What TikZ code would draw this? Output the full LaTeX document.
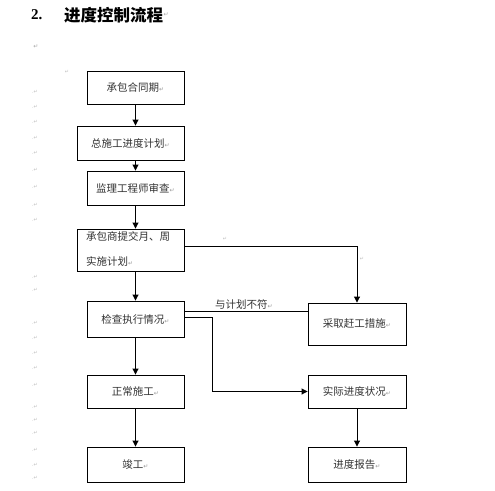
\documentclass[tikz,border=0pt]{standalone}
\usepackage{fontspec}
\setmainfont{Liberation Serif}
\newfontfamily\cjk{Noto Sans CJK SC}
\newfontfamily\sym{DejaVu Sans}
\usetikzlibrary{arrows.meta}
\tikzset{
  box/.style={draw=black, line width=0.9pt, rectangle, inner sep=0pt, minimum width=97pt,
    font=\cjk\fontsize{10.5}{12}\selectfont, text=black!80},
  wide/.style={minimum width=107pt},
  arr/.style={line width=0.9pt, -{Triangle[width=6pt,length=6pt]}},
  ln/.style={line width=0.9pt},
  mk/.style={font=\sym\fontsize{6}{6}\selectfont, text=black!35, inner sep=0pt},
}
\newcommand{\parmk}{{\sym\fontsize{6}{6}\selectfont\textcolor{black!40}{↵}}}
\begin{document}
\begin{tikzpicture}[x=1pt,y=-1pt]
\useasboundingbox (0,0) rectangle (495,490);
\fill[white] (0,0) rectangle (495,490);
% title
\node[anchor=west, inner sep=0pt] (t1) at (31,15) {\fontsize{15}{15}\selectfont\bfseries 2.};
\node[anchor=west, inner sep=0pt] (t2) at (64,15) {\cjk\bfseries\fontsize{16.5}{17}\selectfont 进度控制流程};
\node[mk, anchor=west] (t3) at (t2.east) {↵};
\node[mk] (t4) at (36,47) {↵};
% margin marks
\foreach \yy [count=\i] in {92,107,122,138,153,170,187,205,220,277,290,323,338,353,368,385,407,420,433,450,465,478}
  \node[mk, font=\sym\fontsize{5}{5}\selectfont, text=black!25] (m\i) at (35,\yy) {.↵};
\node[mk, font=\sym\fontsize{5}{5}\selectfont, text=black!25] (m0) at (67,72) {↵};
% boxes
\node[box, minimum height=33pt] (b1) at (135.5,87.5) {承包合同期\parmk};
\node[box, wide, minimum height=34pt] (b2) at (130.5,143) {总施工进度计划\parmk};
\node[box, minimum height=34pt] (b3) at (135.5,188) {监理工程师审查\parmk};
\node[box, wide, minimum height=42pt] (b4) at (130.5,250) {};
\node[anchor=north west, inner sep=0pt, font=\cjk\fontsize{10.5}{12}\selectfont, text=black!80, align=left] (b4t) at (86,228) {\rule{0pt}{12pt}承包商提交月、周\\[13pt]实施计划\parmk};
\node[box, minimum height=36pt] (b5) at (135.5,319) {检查执行情况\parmk};
\node[box, minimum width=98pt, minimum height=42pt] (b6) at (357,324) {采取赶工措施\parmk};
\node[box, minimum height=33pt] (b7) at (135.5,391.5) {正常施工\parmk};
\node[box, minimum width=98pt, minimum height=33pt] (b8) at (357,391.5) {实际进度状况\parmk};
\node[box, minimum height=35pt] (b9) at (135.5,464.5) {竣工\parmk};
\node[box, minimum width=98pt, minimum height=35pt] (b10) at (357,464.5) {进度报告\parmk};
% connectors
\draw[arr] (b1.south) -- (b1.south |- b2.north);
\draw[arr] (b2.south -| b1.south) -- (b3.north);
\draw[arr] (b3.south) -- (b3.south |- b4.north);
\draw[arr] (b4.south -| b5.north) -- (b5.north);
\draw[arr] (b5.south) -- (b7.north);
\draw[arr] (b7.south) -- (b9.north);
\draw[arr] ([yshift=4pt]b4.east) -| (b6.north);
\draw[ln] ([yshift=8pt]b5.east) -- node[above=1pt, inner sep=0pt, xshift=-2pt, font=\cjk\fontsize{10.5}{12}\selectfont, text=black!80] (lb) {与计划不符\parmk} ([yshift=8pt]b5.east -| b6.west);
\draw[arr] ([yshift=2pt]b5.east) -- ++(28,0) coordinate (k) |- (b8.west);
\draw[arr] (b8.south) -- (b10.north);
\node[mk, font=\sym\fontsize{5}{5}\selectfont, text=black!25] (m30) at (225,239) {↵};
\node[mk, font=\sym\fontsize{5}{5}\selectfont, text=black!25] (m31) at (362,259) {↵};
\end{tikzpicture}
\end{document}
